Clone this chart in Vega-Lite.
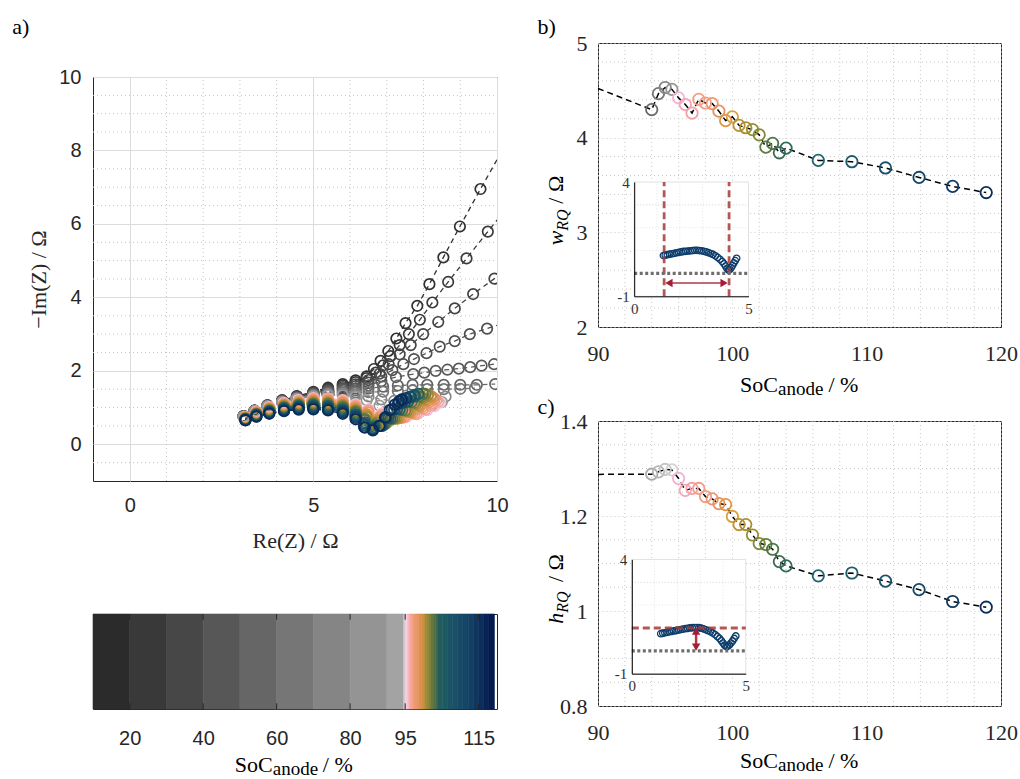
{
"$schema":"https://vega.github.io/schema/vega-lite/v6.json",
"background":"white",
"padding":{"left":12,"top":15,"right":0,"bottom":0},
"config":{"view":{"stroke":"#262626","strokeWidth":1}},
"resolve":{"scale":{"color":"independent","stroke":"independent"}},
"datasets":{
"one":[{}],
"cbt":[{"t":20},{"t":40},{"t":60},{"t":80},{"t":95},{"t":115}],
"igrid":[{"v":1,"h":1},{"v":2,"h":2},{"v":3,"h":3},{"v":4,"h":3}],
"gax":[{"v":1},{"v":2},{"v":3},{"v":4},{"v":6},{"v":7},{"v":8},{"v":9}],
"gay":[{"v":-0.5},{"v":0.5},{"v":1},{"v":1.5},{"v":2.5},{"v":3},{"v":3.5},{"v":4.5},{"v":5},{"v":5.5},{"v":6.5},{"v":7},{"v":7.5},{"v":8.5},{"v":9},{"v":9.5}],
"gbx":[{"v":92},{"v":94},{"v":96},{"v":98},{"v":102},{"v":104},{"v":106},{"v":108},{"v":112},{"v":114},{"v":116},{"v":118}],
"gby":[{"v":2.2},{"v":2.4},{"v":2.6},{"v":2.8},{"v":3.2},{"v":3.4},{"v":3.6},{"v":3.8},{"v":4.2},{"v":4.4},{"v":4.6},{"v":4.8}],
"gcy":[{"v":0.85},{"v":0.9},{"v":0.95},{"v":1.05},{"v":1.1},{"v":1.15},{"v":1.25},{"v":1.3},{"v":1.35}],
"soc":[
{"x":90,"w":4.52,"h":1.2876},
{"x":94,"w":4.296,"h":1.288},{"x":94.5,"w":4.465,"h":1.293},{"x":95,"w":4.53,"h":1.298},{"x":95.5,"w":4.51,"h":1.297},
{"x":96,"w":4.42,"h":1.279},{"x":96.5,"w":4.35,"h":1.254},{"x":97,"w":4.26,"h":1.258},{"x":97.5,"w":4.405,"h":1.258},
{"x":98,"w":4.366,"h":1.241},{"x":98.5,"w":4.36,"h":1.236},{"x":99,"w":4.28,"h":1.226},{"x":99.5,"w":4.18,"h":1.224},
{"x":100,"w":4.22,"h":1.199},{"x":100.5,"w":4.13,"h":1.182},{"x":101,"w":4.105,"h":1.182},{"x":101.5,"w":4.085,"h":1.16},
{"x":102,"w":4.03,"h":1.142},{"x":102.5,"w":3.9,"h":1.14},{"x":103,"w":3.94,"h":1.13},{"x":103.5,"w":3.84,"h":1.104},
{"x":104,"w":3.89,"h":1.095},{"x":106.4,"w":3.76,"h":1.074},{"x":108.9,"w":3.746,"h":1.08},{"x":111.4,"w":3.68,"h":1.063},
{"x":113.9,"w":3.58,"h":1.045},{"x":116.4,"w":3.485,"h":1.02},{"x":118.9,"w":3.42,"h":1.008}],
"ib":[{"x":1.28,"y":0.78},{"x":1.36,"y":0.8},{"x":1.45,"y":0.82},{"x":1.55,"y":0.84},{"x":1.65,"y":0.86},{"x":1.75,"y":0.88},{"x":1.85,"y":0.9},{"x":1.95,"y":0.92},{"x":2.05,"y":0.94},{"x":2.15,"y":0.96},{"x":2.25,"y":0.97},{"x":2.35,"y":0.98},{"x":2.45,"y":0.99},{"x":2.55,"y":1.0},{"x":2.65,"y":1.01},{"x":2.75,"y":1.01},{"x":2.85,"y":1.0},{"x":2.95,"y":0.99},{"x":3.05,"y":0.97},{"x":3.15,"y":0.94},{"x":3.25,"y":0.91},{"x":3.35,"y":0.87},{"x":3.45,"y":0.83},{"x":3.55,"y":0.77},{"x":3.65,"y":0.7},{"x":3.75,"y":0.62},{"x":3.85,"y":0.52},{"x":3.93,"y":0.42},{"x":4.0,"y":0.32},{"x":4.06,"y":0.22},{"x":4.12,"y":0.15},{"x":4.18,"y":0.17},{"x":4.24,"y":0.25},{"x":4.3,"y":0.35},{"x":4.36,"y":0.46},{"x":4.42,"y":0.56},{"x":4.48,"y":0.66}],
"ic":[{"x":1.27,"y":0.75},{"x":1.36,"y":0.77},{"x":1.45,"y":0.79},{"x":1.55,"y":0.81},{"x":1.65,"y":0.83},{"x":1.75,"y":0.85},{"x":1.85,"y":0.87},{"x":1.95,"y":0.89},{"x":2.05,"y":0.91},{"x":2.15,"y":0.93},{"x":2.25,"y":0.95},{"x":2.35,"y":0.97},{"x":2.45,"y":0.98},{"x":2.55,"y":1.0},{"x":2.65,"y":1.01},{"x":2.75,"y":1.02},{"x":2.85,"y":1.02},{"x":2.95,"y":1.01},{"x":3.05,"y":0.99},{"x":3.15,"y":0.96},{"x":3.25,"y":0.92},{"x":3.35,"y":0.88},{"x":3.45,"y":0.83},{"x":3.55,"y":0.78},{"x":3.65,"y":0.71},{"x":3.75,"y":0.63},{"x":3.85,"y":0.54},{"x":3.93,"y":0.44},{"x":4.0,"y":0.34},{"x":4.07,"y":0.25},{"x":4.14,"y":0.19},{"x":4.21,"y":0.2},{"x":4.28,"y":0.26},{"x":4.35,"y":0.34},{"x":4.42,"y":0.43},{"x":4.49,"y":0.54},{"x":4.56,"y":0.65}],
"cbar":[{"a":10,"b":20},{"a":20,"b":30},{"a":30,"b":40},{"a":40,"b":50},{"a":50,"b":60},{"a":60,"b":70},{"a":70,"b":80},{"a":80,"b":90},{"a":90,"b":94.6},{"a":94.6,"b":95.1},{"a":95.1,"b":95.7},{"a":95.7,"b":96.2},{"a":96.2,"b":96.8},{"a":96.8,"b":97.4},{"a":97.4,"b":98},{"a":98,"b":98.7},{"a":98.7,"b":99.4},{"a":99.4,"b":100.2},{"a":100.2,"b":100.8},{"a":100.8,"b":101.4},{"a":101.4,"b":102},{"a":102,"b":102.6},{"a":102.6,"b":103.2},{"a":103.2,"b":103.8},{"a":103.8,"b":105.2},{"a":105.2,"b":106.5},{"a":106.5,"b":107.8},{"a":107.8,"b":109.2},{"a":109.2,"b":110.7},{"a":110.7,"b":112.2},{"a":112.2,"b":113.7},{"a":113.7,"b":115},{"a":115,"b":116.4},{"a":116.4,"b":117.8},{"a":117.8,"b":119.3}],
"nyq":[
{"s":15,"x":3.1,"y":0.77},{"s":15,"x":3.4,"y":0.92},{"s":15,"x":3.75,"y":1.06},{"s":15,"x":4.15,"y":1.2},{"s":15,"x":4.55,"y":1.31},{"s":15,"x":5,"y":1.43},{"s":15,"x":5.4,"y":1.54},{"s":15,"x":5.8,"y":1.64},{"s":15,"x":6.15,"y":1.74},{"s":15,"x":6.45,"y":1.85},{"s":15,"x":6.65,"y":2.05},{"s":15,"x":6.83,"y":2.27},{"s":15,"x":7.04,"y":2.54},{"s":15,"x":7.26,"y":2.88},{"s":15,"x":7.51,"y":3.3},{"s":15,"x":7.83,"y":3.77},{"s":15,"x":8.16,"y":4.36},{"s":15,"x":8.54,"y":5.09},{"s":15,"x":8.99,"y":5.93},{"s":15,"x":9.55,"y":6.95},{"s":15,"x":10.2,"y":8.1},
{"s":25,"x":3.1,"y":0.77},{"s":25,"x":3.4,"y":0.92},{"s":25,"x":3.75,"y":1.06},{"s":25,"x":4.15,"y":1.19},{"s":25,"x":4.55,"y":1.3},{"s":25,"x":5,"y":1.41},{"s":25,"x":5.4,"y":1.51},{"s":25,"x":5.8,"y":1.6},{"s":25,"x":6.15,"y":1.69},{"s":25,"x":6.45,"y":1.8},{"s":25,"x":6.7,"y":1.95},{"s":25,"x":6.9,"y":2.15},{"s":25,"x":7.1,"y":2.4},{"s":25,"x":7.35,"y":2.7},{"s":25,"x":7.6,"y":3.0},{"s":25,"x":7.9,"y":3.39},{"s":25,"x":8.24,"y":3.86},{"s":25,"x":8.67,"y":4.42},{"s":25,"x":9.17,"y":5.06},{"s":25,"x":9.75,"y":5.79},{"s":25,"x":10.4,"y":6.6},
{"s":35,"x":3.1,"y":0.77},{"s":35,"x":3.4,"y":0.92},{"s":35,"x":3.75,"y":1.05},{"s":35,"x":4.15,"y":1.19},{"s":35,"x":4.55,"y":1.29},{"s":35,"x":5,"y":1.4},{"s":35,"x":5.4,"y":1.49},{"s":35,"x":5.8,"y":1.56},{"s":35,"x":6.15,"y":1.63},{"s":35,"x":6.5,"y":1.75},{"s":35,"x":6.8,"y":1.92},{"s":35,"x":7.05,"y":2.18},{"s":35,"x":7.35,"y":2.45},{"s":35,"x":7.65,"y":2.7},{"s":35,"x":7.99,"y":3.0},{"s":35,"x":8.4,"y":3.33},{"s":35,"x":8.85,"y":3.7},{"s":35,"x":9.35,"y":4.09},{"s":35,"x":9.93,"y":4.51},{"s":35,"x":10.5,"y":4.95},
{"s":45,"x":3.1,"y":0.76},{"s":45,"x":3.4,"y":0.91},{"s":45,"x":3.75,"y":1.05},{"s":45,"x":4.15,"y":1.18},{"s":45,"x":4.55,"y":1.28},{"s":45,"x":5,"y":1.38},{"s":45,"x":5.4,"y":1.46},{"s":45,"x":5.8,"y":1.52},{"s":45,"x":6.15,"y":1.58},{"s":45,"x":6.5,"y":1.68},{"s":45,"x":6.85,"y":1.85},{"s":45,"x":7.15,"y":2.02},{"s":45,"x":7.45,"y":2.18},{"s":45,"x":7.74,"y":2.32},{"s":45,"x":8.08,"y":2.48},{"s":45,"x":8.44,"y":2.66},{"s":45,"x":8.85,"y":2.81},{"s":45,"x":9.26,"y":3.0},{"s":45,"x":9.73,"y":3.15},{"s":45,"x":10.2,"y":3.3},
{"s":55,"x":3.1,"y":0.76},{"s":55,"x":3.4,"y":0.91},{"s":55,"x":3.75,"y":1.05},{"s":55,"x":4.15,"y":1.17},{"s":55,"x":4.55,"y":1.27},{"s":55,"x":5,"y":1.37},{"s":55,"x":5.4,"y":1.44},{"s":55,"x":5.8,"y":1.49},{"s":55,"x":6.15,"y":1.52},{"s":55,"x":6.5,"y":1.6},{"s":55,"x":6.85,"y":1.72},{"s":55,"x":7.25,"y":1.83},{"s":55,"x":7.72,"y":1.91},{"s":55,"x":8.02,"y":1.95},{"s":55,"x":8.33,"y":2.0},{"s":55,"x":8.65,"y":2.03},{"s":55,"x":8.96,"y":2.06},{"s":55,"x":9.27,"y":2.1},{"s":55,"x":9.58,"y":2.14},{"s":55,"x":9.92,"y":2.18},
{"s":65,"x":3.1,"y":0.76},{"s":65,"x":3.4,"y":0.91},{"s":65,"x":3.75,"y":1.04},{"s":65,"x":4.15,"y":1.16},{"s":65,"x":4.55,"y":1.26},{"s":65,"x":5,"y":1.35},{"s":65,"x":5.4,"y":1.41},{"s":65,"x":5.8,"y":1.45},{"s":65,"x":6.15,"y":1.47},{"s":65,"x":6.5,"y":1.52},{"s":65,"x":6.9,"y":1.57},{"s":65,"x":7.3,"y":1.6},{"s":65,"x":7.7,"y":1.62},{"s":65,"x":8.1,"y":1.62},{"s":65,"x":8.55,"y":1.62},{"s":65,"x":9,"y":1.62},{"s":65,"x":9.45,"y":1.62},{"s":65,"x":9.95,"y":1.64},
{"s":75,"x":3.1,"y":0.76},{"s":75,"x":3.4,"y":0.91},{"s":75,"x":3.75,"y":1.04},{"s":75,"x":4.15,"y":1.16},{"s":75,"x":4.55,"y":1.25},{"s":75,"x":5,"y":1.33},{"s":75,"x":5.4,"y":1.38},{"s":75,"x":5.8,"y":1.41},{"s":75,"x":6.15,"y":1.41},{"s":75,"x":6.5,"y":1.42},{"s":75,"x":6.9,"y":1.43},{"s":75,"x":7.3,"y":1.45},{"s":75,"x":7.7,"y":1.47},{"s":75,"x":8.1,"y":1.5},{"s":75,"x":8.55,"y":1.5},{"s":75,"x":9,"y":1.51},{"s":75,"x":9.4,"y":1.53},
{"s":85,"x":3.1,"y":0.75},{"s":85,"x":3.4,"y":0.9},{"s":85,"x":3.75,"y":1.03},{"s":85,"x":4.15,"y":1.15},{"s":85,"x":4.55,"y":1.24},{"s":85,"x":5,"y":1.32},{"s":85,"x":5.4,"y":1.36},{"s":85,"x":5.8,"y":1.37},{"s":85,"x":6.15,"y":1.36},{"s":85,"x":6.5,"y":1.3},{"s":85,"x":6.85,"y":1.22},{"s":85,"x":7.2,"y":1.18},{"s":85,"x":7.55,"y":1.17},{"s":85,"x":7.9,"y":1.19},{"s":85,"x":8.25,"y":1.23},{"s":85,"x":8.6,"y":1.3},
{"s":92,"x":3.1,"y":0.75},{"s":92,"x":3.4,"y":0.9},{"s":92,"x":3.75,"y":1.03},{"s":92,"x":4.15,"y":1.14},{"s":92,"x":4.55,"y":1.23},{"s":92,"x":5,"y":1.3},{"s":92,"x":5.4,"y":1.33},{"s":92,"x":5.8,"y":1.33},{"s":92,"x":6.15,"y":1.3},{"s":92,"x":6.45,"y":1.2},{"s":92,"x":6.8,"y":1.05},{"s":92,"x":7.15,"y":0.95},{"s":92,"x":7.5,"y":0.93},{"s":92,"x":7.85,"y":0.97},{"s":92,"x":8.2,"y":1.05},{"s":92,"x":8.5,"y":1.15},
{"s":95.5,"x":3.15,"y":0.74},{"s":95.5,"x":3.45,"y":0.89},{"s":95.5,"x":3.8,"y":1.01},{"s":95.5,"x":4.2,"y":1.12},{"s":95.5,"x":4.6,"y":1.2},{"s":95.5,"x":5,"y":1.26},{"s":95.5,"x":5.4,"y":1.26},{"s":95.5,"x":5.8,"y":1.2},{"s":95.5,"x":6.15,"y":1.08},{"s":95.5,"x":6.5,"y":0.95},{"s":95.5,"x":6.85,"y":0.83},{"s":95.5,"x":7.2,"y":0.76},{"s":95.5,"x":7.55,"y":0.76},{"s":95.5,"x":7.85,"y":0.83},{"s":95.5,"x":8.1,"y":0.93},{"s":95.5,"x":8.3,"y":1.04},{"s":95.5,"x":8.45,"y":1.14},
{"s":96.5,"x":3.15,"y":0.73},{"s":96.5,"x":3.45,"y":0.88},{"s":96.5,"x":3.8,"y":1.0},{"s":96.5,"x":4.2,"y":1.11},{"s":96.5,"x":4.6,"y":1.18},{"s":96.5,"x":5,"y":1.24},{"s":96.5,"x":5.4,"y":1.24},{"s":96.5,"x":5.8,"y":1.18},{"s":96.5,"x":6.15,"y":1.06},{"s":96.5,"x":6.5,"y":0.93},{"s":96.5,"x":6.85,"y":0.8},{"s":96.5,"x":7.2,"y":0.73},{"s":96.5,"x":7.5,"y":0.74},{"s":96.5,"x":7.8,"y":0.82},{"s":96.5,"x":8.05,"y":0.94},{"s":96.5,"x":8.25,"y":1.06},{"s":96.5,"x":8.4,"y":1.16},
{"s":97.5,"x":3.15,"y":0.73},{"s":97.5,"x":3.45,"y":0.87},{"s":97.5,"x":3.8,"y":0.99},{"s":97.5,"x":4.2,"y":1.09},{"s":97.5,"x":4.6,"y":1.17},{"s":97.5,"x":5,"y":1.22},{"s":97.5,"x":5.4,"y":1.22},{"s":97.5,"x":5.8,"y":1.15},{"s":97.5,"x":6.15,"y":1.03},{"s":97.5,"x":6.5,"y":0.9},{"s":97.5,"x":6.85,"y":0.76},{"s":97.5,"x":7.15,"y":0.7},{"s":97.5,"x":7.45,"y":0.73},{"s":97.5,"x":7.75,"y":0.83},{"s":97.5,"x":8.0,"y":0.97},{"s":97.5,"x":8.2,"y":1.1},{"s":97.5,"x":8.35,"y":1.2},
{"s":98.5,"x":3.15,"y":0.72},{"s":98.5,"x":3.45,"y":0.86},{"s":98.5,"x":3.8,"y":0.97},{"s":98.5,"x":4.2,"y":1.08},{"s":98.5,"x":4.6,"y":1.15},{"s":98.5,"x":5,"y":1.2},{"s":98.5,"x":5.4,"y":1.19},{"s":98.5,"x":5.8,"y":1.13},{"s":98.5,"x":6.15,"y":1.0},{"s":98.5,"x":6.5,"y":0.86},{"s":98.5,"x":6.8,"y":0.72},{"s":98.5,"x":7.1,"y":0.66},{"s":98.5,"x":7.4,"y":0.72},{"s":98.5,"x":7.7,"y":0.85},{"s":98.5,"x":7.95,"y":1.0},{"s":98.5,"x":8.15,"y":1.14},{"s":98.5,"x":8.3,"y":1.24},
{"s":99.5,"x":3.15,"y":0.72},{"s":99.5,"x":3.45,"y":0.85},{"s":99.5,"x":3.8,"y":0.96},{"s":99.5,"x":4.2,"y":1.06},{"s":99.5,"x":4.6,"y":1.13},{"s":99.5,"x":5,"y":1.18},{"s":99.5,"x":5.4,"y":1.17},{"s":99.5,"x":5.8,"y":1.1},{"s":99.5,"x":6.15,"y":0.97},{"s":99.5,"x":6.45,"y":0.82},{"s":99.5,"x":6.75,"y":0.68},{"s":99.5,"x":7.05,"y":0.63},{"s":99.5,"x":7.35,"y":0.71},{"s":99.5,"x":7.65,"y":0.87},{"s":99.5,"x":7.9,"y":1.03},{"s":99.5,"x":8.1,"y":1.18},{"s":99.5,"x":8.25,"y":1.28},
{"s":100.5,"x":3.15,"y":0.71},{"s":100.5,"x":3.45,"y":0.84},{"s":100.5,"x":3.8,"y":0.95},{"s":100.5,"x":4.2,"y":1.05},{"s":100.5,"x":4.6,"y":1.11},{"s":100.5,"x":5,"y":1.15},{"s":100.5,"x":5.4,"y":1.14},{"s":100.5,"x":5.8,"y":1.07},{"s":100.5,"x":6.15,"y":0.94},{"s":100.5,"x":6.45,"y":0.78},{"s":100.5,"x":6.75,"y":0.63},{"s":100.5,"x":7.0,"y":0.6},{"s":100.5,"x":7.3,"y":0.7},{"s":100.5,"x":7.6,"y":0.88},{"s":100.5,"x":7.85,"y":1.06},{"s":100.5,"x":8.05,"y":1.21},{"s":100.5,"x":8.2,"y":1.31},
{"s":101.5,"x":3.15,"y":0.7},{"s":101.5,"x":3.45,"y":0.83},{"s":101.5,"x":3.8,"y":0.94},{"s":101.5,"x":4.2,"y":1.03},{"s":101.5,"x":4.6,"y":1.09},{"s":101.5,"x":5,"y":1.13},{"s":101.5,"x":5.4,"y":1.12},{"s":101.5,"x":5.8,"y":1.05},{"s":101.5,"x":6.15,"y":0.92},{"s":101.5,"x":6.45,"y":0.74},{"s":101.5,"x":6.72,"y":0.59},{"s":101.5,"x":6.98,"y":0.57},{"s":101.5,"x":7.25,"y":0.7},{"s":101.5,"x":7.55,"y":0.9},{"s":101.5,"x":7.8,"y":1.1},{"s":101.5,"x":8.0,"y":1.25},{"s":101.5,"x":8.12,"y":1.34},
{"s":102.5,"x":3.15,"y":0.7},{"s":102.5,"x":3.45,"y":0.82},{"s":102.5,"x":3.8,"y":0.92},{"s":102.5,"x":4.2,"y":1.01},{"s":102.5,"x":4.6,"y":1.08},{"s":102.5,"x":5,"y":1.11},{"s":102.5,"x":5.4,"y":1.1},{"s":102.5,"x":5.8,"y":1.02},{"s":102.5,"x":6.15,"y":0.89},{"s":102.5,"x":6.4,"y":0.7},{"s":102.5,"x":6.7,"y":0.55},{"s":102.5,"x":6.95,"y":0.55},{"s":102.5,"x":7.2,"y":0.7},{"s":102.5,"x":7.5,"y":0.92},{"s":102.5,"x":7.75,"y":1.13},{"s":102.5,"x":7.95,"y":1.28},{"s":102.5,"x":8.05,"y":1.37},
{"s":103.5,"x":3.15,"y":0.69},{"s":103.5,"x":3.45,"y":0.81},{"s":103.5,"x":3.8,"y":0.91},{"s":103.5,"x":4.2,"y":1.0},{"s":103.5,"x":4.6,"y":1.06},{"s":103.5,"x":5,"y":1.09},{"s":103.5,"x":5.4,"y":1.07},{"s":103.5,"x":5.8,"y":1.0},{"s":103.5,"x":6.15,"y":0.86},{"s":103.5,"x":6.4,"y":0.66},{"s":103.5,"x":6.68,"y":0.51},{"s":103.5,"x":6.92,"y":0.53},{"s":103.5,"x":7.15,"y":0.7},{"s":103.5,"x":7.42,"y":0.93},{"s":103.5,"x":7.68,"y":1.15},{"s":103.5,"x":7.88,"y":1.3},{"s":103.5,"x":7.98,"y":1.38},
{"s":106.4,"x":3.15,"y":0.68},{"s":106.4,"x":3.45,"y":0.8},{"s":106.4,"x":3.8,"y":0.89},{"s":106.4,"x":4.2,"y":0.98},{"s":106.4,"x":4.6,"y":1.03},{"s":106.4,"x":5,"y":1.06},{"s":106.4,"x":5.4,"y":1.04},{"s":106.4,"x":5.8,"y":0.96},{"s":106.4,"x":6.15,"y":0.82},{"s":106.4,"x":6.4,"y":0.6},{"s":106.4,"x":6.66,"y":0.47},{"s":106.4,"x":6.88,"y":0.5},{"s":106.4,"x":7.1,"y":0.7},{"s":106.4,"x":7.35,"y":0.95},{"s":106.4,"x":7.58,"y":1.16},{"s":106.4,"x":7.76,"y":1.3},{"s":106.4,"x":7.86,"y":1.37},
{"s":108.9,"x":3.15,"y":0.67},{"s":108.9,"x":3.45,"y":0.79},{"s":108.9,"x":3.8,"y":0.88},{"s":108.9,"x":4.2,"y":0.96},{"s":108.9,"x":4.6,"y":1.01},{"s":108.9,"x":5,"y":1.03},{"s":108.9,"x":5.4,"y":1.01},{"s":108.9,"x":5.8,"y":0.93},{"s":108.9,"x":6.15,"y":0.79},{"s":108.9,"x":6.38,"y":0.56},{"s":108.9,"x":6.64,"y":0.44},{"s":108.9,"x":6.85,"y":0.5},{"s":108.9,"x":7.05,"y":0.72},{"s":108.9,"x":7.28,"y":0.96},{"s":108.9,"x":7.5,"y":1.15},{"s":108.9,"x":7.66,"y":1.28},{"s":108.9,"x":7.75,"y":1.34},
{"s":111.4,"x":3.15,"y":0.67},{"s":111.4,"x":3.45,"y":0.78},{"s":111.4,"x":3.8,"y":0.86},{"s":111.4,"x":4.2,"y":0.94},{"s":111.4,"x":4.6,"y":0.99},{"s":111.4,"x":5,"y":1.01},{"s":111.4,"x":5.4,"y":0.98},{"s":111.4,"x":5.8,"y":0.9},{"s":111.4,"x":6.15,"y":0.76},{"s":111.4,"x":6.38,"y":0.52},{"s":111.4,"x":6.62,"y":0.41},{"s":111.4,"x":6.82,"y":0.5},{"s":111.4,"x":7.0,"y":0.72},{"s":111.4,"x":7.2,"y":0.95},{"s":111.4,"x":7.4,"y":1.12},{"s":111.4,"x":7.55,"y":1.24},{"s":111.4,"x":7.64,"y":1.3},
{"s":114,"x":3.15,"y":0.66},{"s":114,"x":3.45,"y":0.76},{"s":114,"x":3.8,"y":0.85},{"s":114,"x":4.2,"y":0.92},{"s":114,"x":4.6,"y":0.97},{"s":114,"x":5,"y":0.98},{"s":114,"x":5.4,"y":0.95},{"s":114,"x":5.8,"y":0.87},{"s":114,"x":6.15,"y":0.72},{"s":114,"x":6.38,"y":0.47},{"s":114,"x":6.62,"y":0.39},{"s":114,"x":6.8,"y":0.5},{"s":114,"x":6.97,"y":0.73},{"s":114,"x":7.13,"y":0.95},{"s":114,"x":7.3,"y":1.1},{"s":114,"x":7.43,"y":1.2},{"s":114,"x":7.52,"y":1.26},
{"s":118.8,"x":3.15,"y":0.65},{"s":118.8,"x":3.45,"y":0.75},{"s":118.8,"x":3.8,"y":0.83},{"s":118.8,"x":4.2,"y":0.9},{"s":118.8,"x":4.6,"y":0.94},{"s":118.8,"x":5,"y":0.95},{"s":118.8,"x":5.4,"y":0.92},{"s":118.8,"x":5.8,"y":0.83},{"s":118.8,"x":6.15,"y":0.68},{"s":118.8,"x":6.4,"y":0.45},{"s":118.8,"x":6.62,"y":0.38},{"s":118.8,"x":6.8,"y":0.5},{"s":118.8,"x":6.95,"y":0.73},{"s":118.8,"x":7.08,"y":0.93},{"s":118.8,"x":7.22,"y":1.08},{"s":118.8,"x":7.33,"y":1.17},{"s":118.8,"x":7.4,"y":1.22}
]
},
"spacing":28,
"hconcat":[
{"spacing":22,"resolve":{"scale":{"color":"independent","stroke":"independent"}},"vconcat":[
 {"width":404,"height":1,"view":{"stroke":null},
  "data":{"name":"one"},
  "mark":{"type":"text","text":"a)","font":"Liberation Serif","fontSize":22,"align":"left","baseline":"alphabetic","color":"#000000"},
  "encoding":{"x":{"datum":-3.197,"type":"quantitative","scale":{"domain":[-1,10]},"axis":null},"y":{"datum":9.7,"type":"quantitative","scale":{"domain":[0,1]},"axis":null}}},
 {"spacing":61,"resolve":{"scale":{"color":"independent","stroke":"independent"}},"vconcat":[
 {"width":404,"height":404,
  "layer":[
   {"data":{"name":"gax"},"mark":{"type":"rule","color":"#c4c4c4","strokeDash":[1,3],"strokeWidth":1},
    "encoding":{"x":{"field":"v","type":"quantitative","scale":{"domain":[-1,10]},
      "axis":{"values":[0,5,10],"labelExpr":"format(datum.value,'~g')","labelOverlap":false,"labelFlush":false,"grid":true,"gridColor":"#dcdcdc","ticks":false,"domain":false,"labelFont":"Liberation Sans","labelFontSize":20,"labelColor":"#262626","labelPadding":14,"title":"Re(Z) / Ω","titleFont":"Liberation Serif","titleFontSize":22,"titleFontWeight":"normal","titleColor":"#262626","titlePadding":15}},
     "y":{"datum":-1,"type":"quantitative","scale":{"domain":[-1,10]},
      "axis":{"values":[0,2,4,6,8,10],"labelExpr":"format(datum.value,'~g')","labelOverlap":false,"grid":true,"gridColor":"#dcdcdc","ticks":false,"domain":false,"labelFont":"Liberation Sans","labelFontSize":20,"labelColor":"#262626","labelPadding":12,"title":"−Im(Z) / Ω","titleFont":"Liberation Serif","titleFontSize":22,"titleFontWeight":"normal","titleColor":"#262626","titlePadding":8}},
     "y2":{"datum":10}}},
   {"data":{"name":"gay"},"mark":{"type":"rule","color":"#c4c4c4","strokeDash":[1,3],"strokeWidth":1},
    "encoding":{"y":{"field":"v","type":"quantitative"},"x":{"datum":-1},"x2":{"datum":10}}},
   {"data":{"name":"nyq"},"mark":{"type":"line","strokeDash":[5,4],"strokeWidth":1.3,"clip":true},
    "encoding":{
     "x":{"field":"x","type":"quantitative"},
     "y":{"field":"y","type":"quantitative"},
     "detail":{"field":"s","type":"nominal"},
     "color":{"field":"s","type":"quantitative","legend":null,"scale":{"type":"threshold","domain":[20,30,40,50,60,70,80,88,94,96,97,98,99,100,101,102,103,105,107.5,110,112.5,116],"range":["#303030","#3a3a3a","#444444","#4e4e4e","#595959","#646464","#747474","#868686","#989898","#f7c2d6","#f4a8b0","#f2a086","#ec966a","#e0924c","#c48e38","#9c8832","#767c3a","#4e7048","#1f5e64","#1a5468","#154a66","#0f3a60","#0a2a58"]}}}},
   {"data":{"name":"nyq"},"mark":{"type":"point","shape":"circle","filled":false,"size":110,"strokeWidth":1.7,"opacity":1,"clip":true},
    "encoding":{"x":{"field":"x","type":"quantitative"},"y":{"field":"y","type":"quantitative"},
     "color":{"field":"s","type":"quantitative","legend":null,"scale":{"type":"threshold","domain":[20,30,40,50,60,70,80,88,94,96,97,98,99,100,101,102,103,105,107.5,110,112.5,116],"range":["#303030","#3a3a3a","#444444","#4e4e4e","#595959","#646464","#747474","#868686","#989898","#f7c2d6","#f4a8b0","#f2a086","#ec966a","#e0924c","#c48e38","#9c8832","#767c3a","#4e7048","#1f5e64","#1a5468","#154a66","#0f3a60","#0a2a58"]}}}}
  ]},
 {"width":404,"height":95,
  "layer":[
   {"data":{"name":"cbar"},"mark":{"type":"rect","strokeWidth":0.6},
    "encoding":{
     "x":{"field":"a","type":"quantitative","scale":{"domain":[10,119.3]},"axis":{"values":[20,40,60,80,95,115],"labelOverlap":false,"labelFlush":false,"grid":false,"domain":false,"ticks":false,"labelFont":"Liberation Sans","labelFontSize":20,"labelColor":"#262626","labelPadding":19,"title":null}},
     "x2":{"field":"b"},
     "y":{"datum":0,"type":"quantitative","scale":{"domain":[0,1]},"axis":null},
     "y2":{"datum":1},
     "color":{"field":"a","type":"quantitative","legend":null,"scale":{"type":"threshold","domain":[20,30,40,50,60,70,80,90,94.6,95.1,95.7,96.2,96.8,97.4,98,98.7,99.4,100.2,100.8,101.4,102,102.6,103.2,103.8,105.2,106.5,107.8,109.2,110.7,112.2,113.7,115,116.4,117.8],"range":["#2b2b2b","#393939","#474747","#575757","#666666","#767676","#858585","#949494","#a3a3a3","#cdcdcd","#fbcade","#f8b8c4","#f4a898","#f2a088","#ee9870","#e89462","#e09050","#d09040","#b08a34","#988632","#848232","#68783c","#557046","#446a4c","#235c5c","#1e5a62","#1c5466","#1a5068","#174a68","#154666","#134062","#0f365e","#0c2e5a","#082456","#061c50"]}},
     "stroke":{"field":"a","type":"quantitative","legend":null,"scale":{"type":"threshold","domain":[20,30,40,50,60,70,80,90,94.6,95.1,95.7,96.2,96.8,97.4,98,98.7,99.4,100.2,100.8,101.4,102,102.6,103.2,103.8,105.2,106.5,107.8,109.2,110.7,112.2,113.7,115,116.4,117.8],"range":["#2b2b2b","#393939","#474747","#575757","#666666","#767676","#858585","#949494","#a3a3a3","#cdcdcd","#fbcade","#f8b8c4","#f4a898","#f2a088","#ee9870","#e89462","#e09050","#d09040","#b08a34","#988632","#848232","#68783c","#557046","#446a4c","#235c5c","#1e5a62","#1c5466","#1a5068","#174a68","#154666","#134062","#0f365e","#0c2e5a","#082456","#061c50"]}}}},
   {"data":{"name":"cbt"},"mark":{"type":"rule","color":"#262626","strokeWidth":1},"encoding":{"x":{"field":"t","type":"quantitative"},"y":{"datum":0},"y2":{"datum":0.06}}},
   {"data":{"name":"cbt"},"mark":{"type":"rule","color":"#262626","strokeWidth":1},"encoding":{"x":{"field":"t","type":"quantitative"},"y":{"datum":0.94},"y2":{"datum":1}}},
   {"data":{"name":"one"},"mark":{"type":"text","text":"SoC","font":"Liberation Serif","fontSize":22,"align":"right","baseline":"alphabetic","color":"#000000"},"encoding":{"x":{"datum":58.94},"y":{"datum":-0.658}}},
   {"data":{"name":"one"},"mark":{"type":"text","text":"anode","font":"Liberation Serif","fontSize":19,"align":"left","baseline":"alphabetic","color":"#000000"},"encoding":{"x":{"datum":58.94},"y":{"datum":-0.695}}},
   {"data":{"name":"one"},"mark":{"type":"text","text":"/ %","font":"Liberation Serif","fontSize":22,"align":"left","baseline":"alphabetic","color":"#000000"},"encoding":{"x":{"datum":72.58},"y":{"datum":-0.658}}}
  ]}
 ]}
]},
{"spacing":-5,"resolve":{"scale":{"color":"independent","stroke":"independent"}},"vconcat":[
 {"width":403,"height":284,
  "resolve":{"scale":{"x":"independent","y":"independent"}},
  "layer":[
   {"layer":[
    {"data":{"name":"gbx"},"mark":{"type":"rule","color":"#c8c8c8","strokeDash":[1,3],"strokeWidth":1},
     "encoding":{
      "x":{"field":"v","type":"quantitative","scale":{"domain":[90,120]},"axis":{"values":[90,100,110,120],"labelExpr":"format(datum.value,'~g')","labelOverlap":false,"labelFlush":false,"grid":true,"gridColor":"#c8c8c8","gridDash":[1,3],"ticks":false,"domain":false,"labelFont":"Liberation Serif","labelFontSize":22,"labelColor":"#262626","labelPadding":16,"title":null}},
      "y":{"datum":2,"type":"quantitative","scale":{"domain":[2,5]},"axis":{"values":[2,3,4,5],"labelExpr":"format(datum.value,'~g')","labelOverlap":false,"grid":true,"gridColor":"#c8c8c8","gridDash":[1,3],"ticks":false,"domain":false,"labelFont":"Liberation Serif","labelFontSize":22,"labelColor":"#262626","labelPadding":11,"title":null}},
      "y2":{"datum":5}}},
    {"data":{"name":"gby"},"mark":{"type":"rule","color":"#c8c8c8","strokeDash":[1,3],"strokeWidth":1},"encoding":{"y":{"field":"v","type":"quantitative"},"x":{"datum":90},"x2":{"datum":120}}},
    {"data":{"name":"soc"},"mark":{"type":"line","color":"#000000","strokeDash":[6,4],"strokeWidth":1.5},
     "encoding":{"x":{"field":"x","type":"quantitative"},"y":{"field":"w","type":"quantitative"}}},
    {"data":{"name":"soc"},"transform":[{"filter":"datum.x > 90"}],"mark":{"type":"point","shape":"circle","filled":false,"size":130,"strokeWidth":1.8,"opacity":1},
     "encoding":{"x":{"field":"x","type":"quantitative"},"y":{"field":"w","type":"quantitative"},
      "color":{"field":"x","type":"quantitative","legend":null,"scale":{"type":"threshold","domain":[94.25,94.75,95.25,95.75,96.25,96.75,97.25,97.75,98.25,98.75,99.25,99.75,100.25,100.75,101.25,101.75,102.25,102.75,103.25,103.75,105,107.5,110,112.5,115,117.5],"range":["#6a6a6a","#767676","#858585","#959595","#f7b2d2","#f5a6b8","#f3a0a6","#f49c84","#f19e88","#ec9870","#e89060","#e0953e","#d9a040","#bc9232","#a88f30","#969030","#7f8938","#5f7d40","#4c7448","#3c6b50","#2f6a5c","#1f6470","#1b5c70","#174f6c","#134568","#0f3b64","#0a2e5c"]}}}},
    {"data":{"name":"one"},"mark":{"type":"text","text":"b)","font":"Liberation Serif","fontSize":22,"align":"left","baseline":"alphabetic","color":"#000000"},"encoding":{"x":{"datum":85.5},"y":{"datum":5.092}}},
    {"data":{"name":"one"},"mark":{"type":"text","text":"SoC","font":"Liberation Serif","fontSize":22,"align":"right","baseline":"alphabetic","color":"#000000"},"encoding":{"x":{"datum":103.4},"y":{"datum":1.313}}},
    {"data":{"name":"one"},"mark":{"type":"text","text":"anode","font":"Liberation Serif","fontSize":19,"align":"left","baseline":"alphabetic","color":"#000000"},"encoding":{"x":{"datum":103.4},"y":{"datum":1.277}}},
    {"data":{"name":"one"},"mark":{"type":"text","text":"/ %","font":"Liberation Serif","fontSize":22,"align":"left","baseline":"alphabetic","color":"#000000"},"encoding":{"x":{"datum":107.15},"y":{"datum":1.313}}},
    {"data":{"name":"one"},"mark":{"type":"text","text":"w","font":"Liberation Serif","fontSize":22,"fontStyle":"italic","angle":270,"align":"center","baseline":"alphabetic","color":"#000000"},"encoding":{"x":{"datum":87.43},"y":{"datum":2.94}}},
    {"data":{"name":"one"},"mark":{"type":"text","text":"RQ","font":"Liberation Serif","fontSize":16,"fontStyle":"italic","angle":270,"align":"center","baseline":"alphabetic","color":"#000000"},"encoding":{"x":{"datum":87.73},"y":{"datum":3.13}}},
    {"data":{"name":"one"},"mark":{"type":"text","text":"/ Ω","font":"Liberation Serif","fontSize":22,"angle":270,"align":"center","baseline":"alphabetic","color":"#000000"},"encoding":{"x":{"datum":87.43},"y":{"datum":3.45}}}
   ]},
   {"layer":[
    {"data":{"name":"one"},"mark":{"type":"rect","fill":"#ffffff","stroke":"#e0e0e0","strokeWidth":1},
     "encoding":{
      "x":{"datum":0,"type":"quantitative","scale":{"domain":[0,5],"range":[36.2,150.5]},"axis":{"orient":"bottom","offset":-30.7,"values":[0,5],"labelExpr":"format(datum.value,'d')","labelOverlap":false,"labelFlush":false,"grid":false,"ticks":false,"domain":true,"domainColor":"#000000","labelFont":"Liberation Serif","labelFontSize":15,"labelColor":"#333333","labelPadding":5,"title":null,"zindex":1}},
      "x2":{"datum":5},
      "y":{"datum":-1,"type":"quantitative","scale":{"domain":[-1,4],"range":[253.3,139]},"axis":{"orient":"left","offset":-36.2,"values":[-1,4],"labelExpr":"datum.value < 0 ? '-1' : '4'","labelOverlap":false,"grid":false,"ticks":false,"domain":true,"domainColor":"#000000","labelFont":"Liberation Serif","labelFontSize":15,"labelColor":"#333333","labelPadding":5,"title":null,"zindex":1}},
      "y2":{"datum":4}}},
    {"data":{"name":"igrid"},"mark":{"type":"rule","color":"#e2e2e2","strokeDash":[1,2],"strokeWidth":1},"encoding":{"x":{"field":"v","type":"quantitative"},"y":{"datum":-1},"y2":{"datum":4}}},
    {"data":{"name":"igrid"},"mark":{"type":"rule","color":"#e2e2e2","strokeDash":[1,2],"strokeWidth":1},"encoding":{"y":{"field":"h","type":"quantitative"},"x":{"datum":0},"x2":{"datum":5}}},
    {"data":{"name":"ib"},"mark":{"type":"point","shape":"circle","filled":false,"size":42,"strokeWidth":1.3,"color":"#0c3d6b","opacity":1},"encoding":{"x":{"field":"x","type":"quantitative"},"y":{"field":"y","type":"quantitative"}}},
    {"data":{"name":"one"},"mark":{"type":"rule","color":"#a83838","opacity":0.85,"strokeDash":[7,4],"strokeWidth":2.8},"encoding":{"x":{"datum":1.31},"y":{"datum":-1},"y2":{"datum":4}}},
    {"data":{"name":"one"},"mark":{"type":"rule","color":"#a83838","opacity":0.85,"strokeDash":[7,4],"strokeWidth":2.8},"encoding":{"x":{"datum":4.15},"y":{"datum":-1},"y2":{"datum":4}}},
    {"data":{"name":"one"},"mark":{"type":"rule","color":"#6e6e6e","strokeDash":[3,2.5],"strokeWidth":3.2},"encoding":{"y":{"datum":0},"x":{"datum":0},"x2":{"datum":5}}},
    {"data":{"name":"one"},"mark":{"type":"rule","color":"#b5364a","strokeWidth":1.5},"encoding":{"x":{"datum":1.5},"x2":{"datum":3.95},"y":{"datum":-0.42}}},
    {"data":{"name":"one"},"mark":{"type":"point","shape":"triangle-left","filled":true,"color":"#a51d35","size":70,"opacity":1},"encoding":{"x":{"datum":1.52},"y":{"datum":-0.42}}},
    {"data":{"name":"one"},"mark":{"type":"point","shape":"triangle-right","filled":true,"color":"#a51d35","size":70,"opacity":1},"encoding":{"x":{"datum":3.93},"y":{"datum":-0.42}}}
   ]}
  ]},
 {"width":403,"height":285,
  "resolve":{"scale":{"x":"independent","y":"independent"}},
  "layer":[
   {"layer":[
    {"data":{"name":"gbx"},"mark":{"type":"rule","color":"#c8c8c8","strokeDash":[1,3],"strokeWidth":1},
     "encoding":{
      "x":{"field":"v","type":"quantitative","scale":{"domain":[90,120]},"axis":{"values":[90,100,110,120],"labelExpr":"format(datum.value,'~g')","labelOverlap":false,"labelFlush":false,"grid":true,"gridColor":"#c8c8c8","gridDash":[1,3],"ticks":false,"domain":false,"labelFont":"Liberation Serif","labelFontSize":22,"labelColor":"#262626","labelPadding":16,"title":null}},
      "y":{"datum":0.8,"type":"quantitative","scale":{"domain":[0.8,1.4]},"axis":{"values":[0.8,1,1.2,1.4],"labelExpr":"format(datum.value,'~g')","labelOverlap":false,"grid":true,"gridColor":"#c8c8c8","gridDash":[1,3],"ticks":false,"domain":false,"labelFont":"Liberation Serif","labelFontSize":22,"labelColor":"#262626","labelPadding":11,"title":null}},
      "y2":{"datum":1.4}}},
    {"data":{"name":"gcy"},"mark":{"type":"rule","color":"#c8c8c8","strokeDash":[1,3],"strokeWidth":1},"encoding":{"y":{"field":"v","type":"quantitative"},"x":{"datum":90},"x2":{"datum":120}}},
    {"data":{"name":"soc"},"mark":{"type":"line","color":"#000000","strokeDash":[6,4],"strokeWidth":1.5},
     "encoding":{"x":{"field":"x","type":"quantitative"},"y":{"field":"h","type":"quantitative"}}},
    {"data":{"name":"soc"},"transform":[{"filter":"datum.x > 90"}],"mark":{"type":"point","shape":"circle","filled":false,"size":130,"strokeWidth":1.8,"opacity":1},
     "encoding":{"x":{"field":"x","type":"quantitative"},"y":{"field":"h","type":"quantitative"},
      "color":{"field":"x","type":"quantitative","legend":null,"scale":{"type":"threshold","domain":[94.25,94.75,95.25,95.75,96.25,96.75,97.25,97.75,98.25,98.75,99.25,99.75,100.25,100.75,101.25,101.75,102.25,102.75,103.25,103.75,105,107.5,110,112.5,115,117.5],"range":["#a9a9a9","#b5b5b5","#c4c4c4","#d1d1d1","#f7b2d2","#f5a6b8","#f3a0a6","#f49c84","#f19e88","#ec9870","#e89060","#e0953e","#d9a040","#bc9232","#a88f30","#969030","#7f8938","#5f7d40","#4c7448","#3c6b50","#2f6a5c","#1f6470","#1b5c70","#174f6c","#134568","#0f3b64","#0a2e5c"]}}}},
    {"data":{"name":"one"},"mark":{"type":"text","text":"c)","font":"Liberation Serif","fontSize":22,"align":"left","baseline":"alphabetic","color":"#000000"},"encoding":{"x":{"datum":85.5},"y":{"datum":1.4154}}},
    {"data":{"name":"one"},"mark":{"type":"text","text":"SoC","font":"Liberation Serif","fontSize":22,"align":"right","baseline":"alphabetic","color":"#000000"},"encoding":{"x":{"datum":103.4},"y":{"datum":0.6695}}},
    {"data":{"name":"one"},"mark":{"type":"text","text":"anode","font":"Liberation Serif","fontSize":19,"align":"left","baseline":"alphabetic","color":"#000000"},"encoding":{"x":{"datum":103.4},"y":{"datum":0.6623}}},
    {"data":{"name":"one"},"mark":{"type":"text","text":"/ %","font":"Liberation Serif","fontSize":22,"align":"left","baseline":"alphabetic","color":"#000000"},"encoding":{"x":{"datum":107.15},"y":{"datum":0.6695}}},
    {"data":{"name":"one"},"mark":{"type":"text","text":"h","font":"Liberation Serif","fontSize":22,"fontStyle":"italic","angle":270,"align":"center","baseline":"alphabetic","color":"#000000"},"encoding":{"x":{"datum":87.43},"y":{"datum":0.9848}}},
    {"data":{"name":"one"},"mark":{"type":"text","text":"RQ","font":"Liberation Serif","fontSize":16,"fontStyle":"italic","angle":270,"align":"center","baseline":"alphabetic","color":"#000000"},"encoding":{"x":{"datum":87.73},"y":{"datum":1.0189}}},
    {"data":{"name":"one"},"mark":{"type":"text","text":"/ Ω","font":"Liberation Serif","fontSize":22,"angle":270,"align":"center","baseline":"alphabetic","color":"#000000"},"encoding":{"x":{"datum":87.43},"y":{"datum":1.0905}}}
   ]},
   {"layer":[
    {"data":{"name":"one"},"mark":{"type":"rect","fill":"#ffffff","stroke":"#e0e0e0","strokeWidth":1},
     "encoding":{
      "x":{"datum":0,"type":"quantitative","scale":{"domain":[0,5],"range":[33.8,147.8]},"axis":{"orient":"bottom","offset":-32.3,"values":[0,5],"labelExpr":"format(datum.value,'d')","labelOverlap":false,"labelFlush":false,"grid":false,"ticks":false,"domain":true,"domainColor":"#000000","labelFont":"Liberation Serif","labelFontSize":15,"labelColor":"#333333","labelPadding":5,"title":null,"zindex":1}},
      "x2":{"datum":5},
      "y":{"datum":-1,"type":"quantitative","scale":{"domain":[-1,4],"range":[252.7,138.4]},"axis":{"orient":"left","offset":-33.8,"values":[-1,4],"labelExpr":"datum.value < 0 ? '-1' : '4'","labelOverlap":false,"grid":false,"ticks":false,"domain":true,"domainColor":"#000000","labelFont":"Liberation Serif","labelFontSize":15,"labelColor":"#333333","labelPadding":5,"title":null,"zindex":1}},
      "y2":{"datum":4}}},
    {"data":{"name":"igrid"},"mark":{"type":"rule","color":"#e2e2e2","strokeDash":[1,2],"strokeWidth":1},"encoding":{"x":{"field":"v","type":"quantitative"},"y":{"datum":-1},"y2":{"datum":4}}},
    {"data":{"name":"igrid"},"mark":{"type":"rule","color":"#e2e2e2","strokeDash":[1,2],"strokeWidth":1},"encoding":{"y":{"field":"h","type":"quantitative"},"x":{"datum":0},"x2":{"datum":5}}},
    {"data":{"name":"ic"},"mark":{"type":"point","shape":"circle","filled":false,"size":42,"strokeWidth":1.3,"color":"#0c3d6b","opacity":1},"encoding":{"x":{"field":"x","type":"quantitative"},"y":{"field":"y","type":"quantitative"}}},
    {"data":{"name":"one"},"mark":{"type":"rule","color":"#a83838","opacity":0.85,"strokeDash":[7,4],"strokeWidth":2.8},"encoding":{"y":{"datum":1.0},"x":{"datum":0},"x2":{"datum":5}}},
    {"data":{"name":"one"},"mark":{"type":"rule","color":"#6e6e6e","strokeDash":[3,2.5],"strokeWidth":3.2},"encoding":{"y":{"datum":0},"x":{"datum":0},"x2":{"datum":5}}},
    {"data":{"name":"one"},"mark":{"type":"rule","color":"#b5364a","strokeWidth":2.5},"encoding":{"x":{"datum":2.82},"y":{"datum":0.15},"y2":{"datum":0.88}}},
    {"data":{"name":"one"},"mark":{"type":"point","shape":"triangle-up","filled":true,"color":"#a51d35","size":70,"opacity":1},"encoding":{"x":{"datum":2.82},"y":{"datum":0.86}}},
    {"data":{"name":"one"},"mark":{"type":"point","shape":"triangle-down","filled":true,"color":"#a51d35","size":70,"opacity":1},"encoding":{"x":{"datum":2.82},"y":{"datum":0.16}}}
   ]}
  ]}
]}
]
}
